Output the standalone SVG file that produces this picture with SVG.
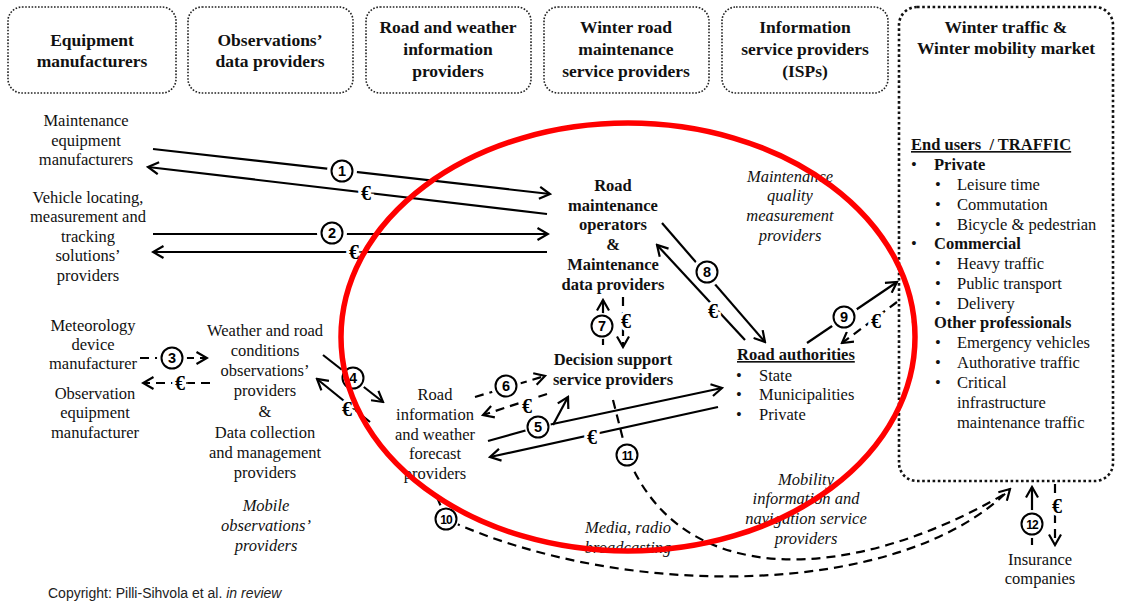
<svg xmlns="http://www.w3.org/2000/svg" width="1122" height="605" viewBox="0 0 1122 605">
  <style>
    text { font-family: "Liberation Serif", "Times New Roman", serif; fill: #111; }
    .hd { font-size: 17.5px; font-weight: bold; text-anchor: middle; }
    .t { font-size: 16.5px; text-anchor: middle; }
    .tl { font-size: 16.5px; }
    .b { font-weight: bold; }
    .i { font-style: italic; }
    .u { text-decoration: underline; }
    .box { fill: none; stroke: #222; stroke-width: 1.6; stroke-dasharray: 1.6 1.6; }
    .box6 { fill: none; stroke: #111; stroke-width: 2.6; stroke-dasharray: 2.6 2.6; }
    .ln { fill: none; stroke: #000; stroke-width: 2.2; }
    .dash { stroke-dasharray: 9 6; }
    .gap { fill: #fff; stroke: none; }
    .num { fill: #fff; stroke: #000; stroke-width: 2; }
    .nt { font-family: "Liberation Sans", Arial, sans-serif; font-weight: bold; font-size: 14.5px; text-anchor: middle; fill: #000; }
    .nt2 { font-size: 12px; letter-spacing: -1px; }
    .eur { font-family: "Liberation Serif", serif; font-weight: bold; font-size: 20px; text-anchor: middle; fill: #000; stroke: #fff; stroke-width: 6; paint-order: stroke; }
    .ring { fill: none; stroke: #ff0000; stroke-width: 5.5; }
    .copy { font-family: "Liberation Sans", Arial, sans-serif; font-size: 14px; fill: #222; }
  </style>
  <defs>
    <marker id="arr" viewBox="0 0 14 14" refX="12" refY="7" markerWidth="14" markerHeight="14" markerUnits="userSpaceOnUse" orient="auto">
      <path d="M1.5,1 L12,7 L1.5,13" fill="none" stroke="#000" stroke-width="2.2" stroke-dasharray="none"/>
    </marker>
  </defs>
  <rect width="1122" height="605" fill="#fff"/>

  <!-- column headers -->
  <g id="hdr-equipment">
    <rect class="box" x="8" y="7" width="168" height="86" rx="14"/>
    <text class="hd" x="92" y="46">Equipment</text>
    <text class="hd" x="92" y="67">manufacturers</text>
  </g>
  <g id="hdr-observations">
    <rect class="box" x="188" y="7" width="165" height="86" rx="14"/>
    <text class="hd" x="270" y="46">Observations’</text>
    <text class="hd" x="270" y="67">data providers</text>
  </g>
  <g id="hdr-roadweather">
    <rect class="box" x="366" y="7" width="165" height="86" rx="14"/>
    <text class="hd" x="448" y="33">Road and weather</text>
    <text class="hd" x="448" y="55">information</text>
    <text class="hd" x="448" y="77">providers</text>
  </g>
  <g id="hdr-maintenance">
    <rect class="box" x="544" y="7" width="165" height="86" rx="14"/>
    <text class="hd" x="626" y="33">Winter road</text>
    <text class="hd" x="626" y="55">maintenance</text>
    <text class="hd" x="626" y="77">service providers</text>
  </g>
  <g id="hdr-isp">
    <rect class="box" x="722" y="7" width="166" height="86" rx="14"/>
    <text class="hd" x="805" y="33">Information</text>
    <text class="hd" x="805" y="55">service providers</text>
    <text class="hd" x="805" y="77">(ISPs)</text>
  </g>
  <g id="market">
    <rect class="box6" x="899" y="7" width="214" height="474" rx="18"/>
    <text class="hd" x="1006" y="33">Winter traffic &amp;</text>
    <text class="hd" x="1006" y="54">Winter mobility market</text>
    <text class="tl b u" x="911" y="150">End users&#160; / TRAFFIC</text>
    <text class="tl" x="911" y="170">•</text><text class="tl b" x="934" y="170">Private</text>
    <text class="tl" x="935" y="190">•</text><text class="tl" x="957" y="190">Leisure time</text>
    <text class="tl" x="935" y="210">•</text><text class="tl" x="957" y="210">Commutation</text>
    <text class="tl" x="935" y="230">•</text><text class="tl" x="957" y="230">Bicycle &amp; pedestrian</text>
    <text class="tl" x="911" y="249">•</text><text class="tl b" x="934" y="249">Commercial</text>
    <text class="tl" x="935" y="269">•</text><text class="tl" x="957" y="269">Heavy traffic</text>
    <text class="tl" x="935" y="289">•</text><text class="tl" x="957" y="289">Public transport</text>
    <text class="tl" x="935" y="309">•</text><text class="tl" x="957" y="309">Delivery</text>
    <text class="tl" x="911" y="328">•</text><text class="tl b" x="934" y="328">Other professionals</text>
    <text class="tl" x="935" y="348">•</text><text class="tl" x="957" y="348">Emergency vehicles</text>
    <text class="tl" x="935" y="368">•</text><text class="tl" x="957" y="368">Authorative traffic</text>
    <text class="tl" x="935" y="388">•</text><text class="tl" x="957" y="388">Critical</text>
    <text class="tl" x="957" y="408">infrastructure</text>
    <text class="tl" x="957" y="428">maintenance traffic</text>
  </g>

  <!-- actors -->
  <g id="maint-equipment">
    <text class="t" x="86" y="126">Maintenance</text>
    <text class="t" x="86" y="146">equipment</text>
    <text class="t" x="86" y="165">manufacturers</text>
  </g>
  <g id="vehicle-locating">
    <text class="t" x="88" y="203">Vehicle locating,</text>
    <text class="t" x="88" y="222">measurement and</text>
    <text class="t" x="88" y="242">tracking</text>
    <text class="t" x="88" y="261">solutions’</text>
    <text class="t" x="88" y="281">providers</text>
  </g>
  <g id="meteo-device">
    <text class="t" x="93" y="331">Meteorology</text>
    <text class="t" x="93" y="350">device</text>
    <text class="t" x="93" y="369">manufacturer</text>
  </g>
  <g id="obs-equipment">
    <text class="t" x="95" y="399">Observation</text>
    <text class="t" x="95" y="418">equipment</text>
    <text class="t" x="95" y="438">manufacturer</text>
  </g>
  <g id="weather-obs">
    <text class="t" x="265" y="336">Weather and road</text>
    <text class="t" x="265" y="356">conditions</text>
    <text class="t" x="265" y="376">observations’</text>
    <text class="t" x="265" y="396">providers</text>
    <text class="t" x="265" y="417">&amp;</text>
    <text class="t" x="265" y="438">Data collection</text>
    <text class="t" x="265" y="458">and management</text>
    <text class="t" x="265" y="478">providers</text>
  </g>
  <g id="mobile-obs">
    <text class="t i" x="266" y="511">Mobile</text>
    <text class="t i" x="266" y="531">observations’</text>
    <text class="t i" x="266" y="551">providers</text>
  </g>
  <g id="road-info">
    <text class="t" x="435" y="400">Road</text>
    <text class="t" x="435" y="420">information</text>
    <text class="t" x="435" y="440">and weather</text>
    <text class="t" x="435" y="459">forecast</text>
    <text class="t" x="435" y="479">providers</text>
  </g>
  <g id="road-maint-ops">
    <text class="t b" x="613" y="191">Road</text>
    <text class="t b" x="613" y="211">maintenance</text>
    <text class="t b" x="613" y="230">operators</text>
    <text class="t b" x="613" y="250">&amp;</text>
    <text class="t b" x="613" y="270">Maintenance</text>
    <text class="t b" x="613" y="290">data providers</text>
  </g>
  <g id="decision-support">
    <text class="t b" x="613" y="365">Decision support</text>
    <text class="t b" x="613" y="385">service providers</text>
  </g>
  <g id="quality-meas">
    <text class="t i" x="790" y="182">Maintenance</text>
    <text class="t i" x="790" y="201">quality</text>
    <text class="t i" x="790" y="221">measurement</text>
    <text class="t i" x="790" y="241">providers</text>
  </g>
  <g id="road-authorities">
    <text class="tl b u" x="737" y="360">Road authorities</text>
    <text class="tl" x="736" y="381">•</text><text class="tl" x="759" y="381">State</text>
    <text class="tl" x="736" y="400">•</text><text class="tl" x="759" y="400">Municipalities</text>
    <text class="tl" x="736" y="420">•</text><text class="tl" x="759" y="420">Private</text>
  </g>
  <g id="media">
    <text class="t i" x="628" y="533">Media, radio</text>
    <text class="t i" x="628" y="553">broadcasting</text>
  </g>
  <g id="mobility-info">
    <text class="t i" x="806" y="485">Mobility</text>
    <text class="t i" x="806" y="504">information and</text>
    <text class="t i" x="806" y="524">navigation service</text>
    <text class="t i" x="806" y="544">providers</text>
  </g>
  <g id="insurance">
    <text class="t" x="1040" y="565">Insurance</text>
    <text class="t" x="1040" y="584">companies</text>
  </g>

  <!-- flows: goods/services and payments -->
  <g id="connectors">
    <path class="ln" d="M153,149 L550,194" marker-end="url(#arr)"/>
    <path class="ln" d="M547,214 L148,167" marker-end="url(#arr)"/>
    <path class="ln" d="M153,234 L548,234" marker-end="url(#arr)"/>
    <path class="ln" d="M547,252 L153,252" marker-end="url(#arr)"/>
    <path class="ln dash" d="M140,358 L207,358" marker-end="url(#arr)"/>
    <path class="ln dash" d="M210,383 L143,383" marker-end="url(#arr)"/>
    <path class="ln" d="M323,355 L383,402" marker-end="url(#arr)"/>
    <path class="ln" d="M370,422 L317,379" marker-end="url(#arr)"/>
    <path class="ln dash" d="M475,397 L545,376" marker-end="url(#arr)"/>
    <path class="ln dash" d="M547,394 L483,415" marker-end="url(#arr)"/>
    <path class="ln" d="M488,441 L538,427"/>
    <path class="ln" d="M548,425 L722,388" marker-end="url(#arr)"/>
    <path class="ln" d="M553,425 L568,397" marker-end="url(#arr)"/>
    <path class="ln" d="M718,407 L490,457" marker-end="url(#arr)"/>
    <path class="ln" d="M603,345 L603,300" marker-end="url(#arr)"/>
    <path class="ln dash" d="M623,297 L623,347" marker-end="url(#arr)"/>
    <path class="ln" d="M662,223 L765,342" marker-end="url(#arr)"/>
    <path class="ln" d="M745,340 L657,245" marker-end="url(#arr)"/>
    <path class="ln" d="M807,343 L897,282" marker-end="url(#arr)"/>
    <path class="ln dash" d="M897,302 L842,343" marker-end="url(#arr)"/>
    <path class="ln dash" d="M613,400 L627,455 C 680,590 850,585 1008,492"/>
    <path class="ln dash" d="M437,497 L446,519 C 620,600 900,600 1010,489" marker-end="url(#arr)"/>
    <path class="ln" d="M1032,545 L1032,487" marker-end="url(#arr)"/>
    <path class="ln dash" d="M1055,484 L1055,545" marker-end="url(#arr)"/>

    <!-- step numbers -->
    <g>
      <circle class="gap" cx="342" cy="171" r="15"/><circle class="num" cx="342" cy="171" r="10.5"/><text class="nt" x="342" y="176">1</text>
      <circle class="gap" cx="332" cy="233" r="15"/><circle class="num" cx="332" cy="233" r="10.5"/><text class="nt" x="332" y="238">2</text>
      <circle class="gap" cx="172" cy="358" r="15"/><circle class="num" cx="172" cy="358" r="10.5"/><text class="nt" x="172" y="363">3</text>
      <circle class="gap" cx="353" cy="378" r="14"/><circle class="num" cx="353" cy="378" r="10.5"/><text class="nt" x="353" y="383">4</text>
      <circle class="gap" cx="538" cy="427" r="13"/><circle class="num" cx="538" cy="427" r="10.5"/><text class="nt" x="538" y="432">5</text>
      <circle class="gap" cx="506" cy="386" r="15"/><circle class="num" cx="506" cy="386" r="10.5"/><text class="nt" x="506" y="391">6</text>
      <circle class="gap" cx="602" cy="326" r="13"/><circle class="num" cx="602" cy="326" r="10.5"/><text class="nt" x="602" y="331">7</text>
      <circle class="gap" cx="707" cy="272" r="15"/><circle class="num" cx="707" cy="272" r="10.5"/><text class="nt" x="707" y="277">8</text>
      <circle class="gap" cx="844" cy="317" r="15"/><circle class="num" cx="844" cy="317" r="10.5"/><text class="nt" x="844" y="322">9</text>
      <circle class="gap" cx="446" cy="519" r="13"/><circle class="num" cx="446" cy="519" r="10.5"/><text class="nt nt2" x="446" y="523.5">10</text>
      <circle class="gap" cx="627" cy="455" r="14"/><circle class="num" cx="627" cy="455" r="10.5"/><text class="nt nt2" x="627" y="459.5">11</text>
      <circle class="gap" cx="1032" cy="524" r="14"/><circle class="num" cx="1032" cy="524" r="10.5"/><text class="nt nt2" x="1032" y="528.5">12</text>
    </g>
    <!-- payment labels -->
    <g>
      <text class="eur" x="366" y="200">€</text>
      <text class="eur" x="354" y="259">€</text>
      <text class="eur" x="180" y="390">€</text>
      <text class="eur" x="347" y="416">€</text>
      <text class="eur" x="527" y="413">€</text>
      <text class="eur" x="592" y="444">€</text>
      <text class="eur" x="626" y="328">€</text>
      <text class="eur" x="713" y="318">€</text>
      <text class="eur" x="876" y="328">€</text>
      <text class="eur" x="1057" y="513">€</text>
    </g>
  </g>

  <!-- highlighted core of the ecosystem -->
  <ellipse class="ring" cx="628" cy="337" rx="287" ry="214"/>

  <text class="copy" x="48" y="598">Copyright: Pilli-Sihvola et al. <tspan font-style="italic">in review</tspan></text>
</svg>
